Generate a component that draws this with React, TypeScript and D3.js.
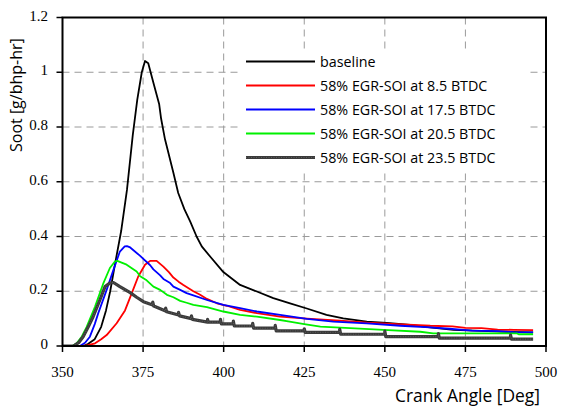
import React from "react";
import * as d3 from "d3";

type P = [number, number];

const xTicks = [350, 375, 400, 425, 450, 475, 500];
const yTicks = [0, 0.2, 0.4, 0.6, 0.8, 1, 1.2];
const yTickLabels = ["0", "0.2", "0.4", "0.6", "0.8", "1", "1.2"];

const seriesNames = [
  "baseline",
  "58% EGR-SOI at 8.5 BTDC",
  "58% EGR-SOI at 17.5 BTDC",
  "58% EGR-SOI at 20.5 BTDC",
  "58% EGR-SOI at 23.5 BTDC",
];

const baseline: P[] = [
  [350, 0], [356.5, 0], [358, 0.008], [360, 0.025], [362, 0.07], [363.5, 0.13], [364.8, 0.2],
  [366.3, 0.3], [368.2, 0.42], [370, 0.57], [371.8, 0.77], [373.2, 0.9], [374.6, 1.0],
  [375.6, 1.041], [376.6, 1.033], [378.2, 0.962], [380, 0.883], [380.6, 0.83], [381.8, 0.755],
  [384.4, 0.633], [385.9, 0.559], [387.8, 0.5], [389.6, 0.455], [391.6, 0.4], [393.2, 0.364],
  [395.8, 0.327], [399.9, 0.27], [405.1, 0.223], [410.3, 0.199], [415.4, 0.175], [420.6, 0.156],
  [425.8, 0.137], [431.9, 0.114], [437.1, 0.101], [444.4, 0.089], [450.6, 0.084], [457.9, 0.077],
  [464, 0.068], [471.3, 0.059], [480, 0.055], [488, 0.052], [496, 0.05],
];

const soi85: P[] = [
  [350, 0], [356.4, 0], [358, 0.003], [360.1, 0.01], [362, 0.025], [363.7, 0.04], [366.8, 0.083],
  [369.4, 0.13], [371.5, 0.193], [373.5, 0.254], [375.6, 0.297], [377.2, 0.311], [379.2, 0.311],
  [381.3, 0.29], [383, 0.27], [384.4, 0.25], [386, 0.235], [387.5, 0.223], [390.6, 0.2],
  [392.7, 0.187], [394.8, 0.172], [397.9, 0.156], [401, 0.147], [405.1, 0.132], [410.3, 0.12],
  [417.5, 0.107], [425.8, 0.1], [436.1, 0.093], [444.4, 0.085], [453.7, 0.08], [464.1, 0.074],
  [471, 0.072], [475, 0.066], [480, 0.065], [485, 0.06], [490, 0.059], [496, 0.058],
];

const soi175: P[] = [
  [350, 0], [355.4, 0], [357, 0.012], [358.5, 0.034], [360, 0.08], [361.1, 0.12], [363.7, 0.205],
  [365.8, 0.278], [367.8, 0.345], [369.3, 0.364], [370, 0.365], [371, 0.36], [374, 0.33],
  [377.2, 0.295], [378.2, 0.28], [380.3, 0.258], [381.3, 0.245], [383.4, 0.23], [384.4, 0.217],
  [386.5, 0.205], [388.5, 0.193], [390.6, 0.185], [394.8, 0.168], [399.9, 0.15], [405.1, 0.138],
  [410.3, 0.126], [417.5, 0.114], [425.8, 0.099], [434, 0.089], [444.4, 0.083], [454.8, 0.074],
  [464, 0.068], [470, 0.063], [477, 0.056], [485, 0.054], [490, 0.051], [496, 0.05],
];

const soi205: P[] = [
  [350, 0], [353, 0], [354.4, 0.01], [356, 0.035], [357.5, 0.07], [360.1, 0.144], [362.7, 0.23],
  [364.7, 0.285], [366.2, 0.308], [367, 0.311], [369.9, 0.297], [373, 0.272], [374.1, 0.255],
  [376.1, 0.24], [378.2, 0.217], [380.3, 0.205], [382.4, 0.187], [384.4, 0.178], [386.5, 0.165],
  [388.5, 0.158], [390.6, 0.15], [394.8, 0.142], [399.9, 0.126], [405.1, 0.114], [410.3, 0.107],
  [417.5, 0.095], [420, 0.09], [425, 0.08], [430, 0.071], [439.2, 0.065], [449.6, 0.059],
  [461, 0.052], [465, 0.046], [491, 0.046], [491.5, 0.043], [496, 0.043],
];

const soi235: P[] = [
  [350, 0], [353.4, 0], [355, 0.012], [356.4, 0.034], [358, 0.07], [359.5, 0.107], [361.6, 0.168],
  [363.2, 0.217], [364.7, 0.23], [365.8, 0.232], [367.8, 0.217], [371, 0.195], [373, 0.178],
  [375.1, 0.162], [378, 0.15], [378, 0.16], [378.3, 0.146], [382, 0.128], [382, 0.138],
  [382.3, 0.125], [386, 0.113], [386, 0.123], [386.3, 0.11], [390, 0.1], [390, 0.11],
  [390.3, 0.097], [395, 0.087], [395, 0.097], [395.3, 0.087], [399, 0.087], [399, 0.097],
  [399.3, 0.081], [403, 0.081], [403, 0.091], [403.3, 0.073], [409, 0.073], [409, 0.083],
  [409.3, 0.065], [416, 0.065], [416, 0.075], [416.3, 0.055], [425, 0.055], [425, 0.063],
  [425.3, 0.05], [436, 0.05], [436, 0.061], [436.3, 0.043], [450, 0.043], [450, 0.054],
  [450.3, 0.034], [466.6, 0.034], [466.6, 0.045], [466.9, 0.029], [489, 0.029], [489, 0.04],
  [489.3, 0.025], [496, 0.025],
];

const seriesData = [baseline, soi85, soi175, soi205, soi235];
const seriesColors = ["#000000", "#ff0000", "#0000ff", "#00f000", "#3a3a3a"];
const seriesWidths = [1.8, 1.8, 1.8, 1.8, 3.2];

export default function App() {
  const W = 561;
  const H = 408;
  const L = 62.5, R = 546, T = 17.5, B = 346;
  const x = d3.scaleLinear().domain([350, 500]).range([L, R]);
  const y = d3.scaleLinear().domain([0, 1.2]).range([B, T]);
  const line = d3.line<P>().x((d) => x(d[0])).y((d) => y(d[1]));

  const legX1 = 246, legX2 = 315, legTextX = 320, legY0 = 61.5, legDy = 24;
  const sans = "'Open Sans', 'Noto Sans', sans-serif";
  const serif = "'Liberation Serif', 'DejaVu Serif', serif";

  return (
    <svg width={W} height={H} style={{ position: "absolute", left: 0, top: 0, display: "block", background: "#fff" }}>
      <rect x={0} y={0} width={W} height={H} fill="#fff" />
      <defs>
        <clipPath id="plotclip">
          <rect x={L} y={T} width={R - L} height={B - T} />
        </clipPath>
      </defs>
      {/* gridlines */}
      {xTicks.slice(1, -1).map((t) => (
        <line key={"gx" + t} x1={x(t)} x2={x(t)} y1={T} y2={B} stroke="#9a9a9a" strokeWidth={1} strokeDasharray="7,5" />
      ))}
      {yTicks.slice(1, -1).map((t) => (
        <line key={"gy" + t} x1={L} x2={R} y1={y(t)} y2={y(t)} stroke="#9a9a9a" strokeWidth={1} strokeDasharray="7,5" />
      ))}
      {/* legend background */}
      <rect x={242} y={49} width={285} height={120} fill="#fff" />
      {/* series */}
      <g clipPath="url(#plotclip)">
        {seriesData.map((d, i) => (
          <path key={"s" + i} d={line(d) || ""} fill="none" stroke={seriesColors[i]} strokeWidth={seriesWidths[i]} strokeLinejoin="round" />
        ))}
        <path d={line(soi235) || ""} fill="none" stroke="#666" strokeWidth={0.8} strokeDasharray="1,1.5" />
      </g>
      {/* frame */}
      <rect x={L} y={T} width={R - L} height={B - T} fill="none" stroke="#000" strokeWidth={2} />
      {/* ticks */}
      {xTicks.map((t) => (
        <line key={"tx" + t} x1={x(t)} x2={x(t)} y1={B} y2={B + 6} stroke="#000" strokeWidth={1.5} />
      ))}
      {yTicks.map((t) => (
        <line key={"ty" + t} x1={L - 6} x2={L} y1={y(t)} y2={y(t)} stroke="#000" strokeWidth={1.5} />
      ))}
      {xTicks.map((t) => (
        <text key={"lx" + t} x={x(t)} y={377} textAnchor="middle" fontFamily={serif} fontSize={15} fill="#000">
          {t}
        </text>
      ))}
      {yTicks.map((t, i) => (
        <text key={"ly" + t} x={48} y={y(t) + 3} textAnchor="end" fontFamily={serif} fontSize={15} fill="#000">
          {yTickLabels[i]}
        </text>
      ))}
      {/* axis titles */}
      <text x={540} y={401.5} textAnchor="end" fontFamily={sans} fontSize={17.4} fill="#000">
        Crank Angle [Deg]
      </text>
      <text transform="translate(22,152) rotate(-90)" textAnchor="start" fontFamily={sans} fontSize={16} fill="#000">
        Soot [g/bhp-hr]
      </text>
      {/* legend */}
      {seriesNames.map((n, i) => (
        <g key={"lg" + i}>
          <line x1={legX1} x2={legX2} y1={legY0 + i * legDy} y2={legY0 + i * legDy} stroke={seriesColors[i]} strokeWidth={seriesWidths[i]} />
          {i === 4 && (
            <line x1={legX1} x2={legX2} y1={legY0 + i * legDy} y2={legY0 + i * legDy} stroke="#666" strokeWidth={0.8} strokeDasharray="1,1.5" />
          )}
          <text x={legTextX} y={legY0 + i * legDy + 5} fontFamily={sans} fontSize={14.3} fill="#000">
            {n}
          </text>
        </g>
      ))}
    </svg>
  );
}
